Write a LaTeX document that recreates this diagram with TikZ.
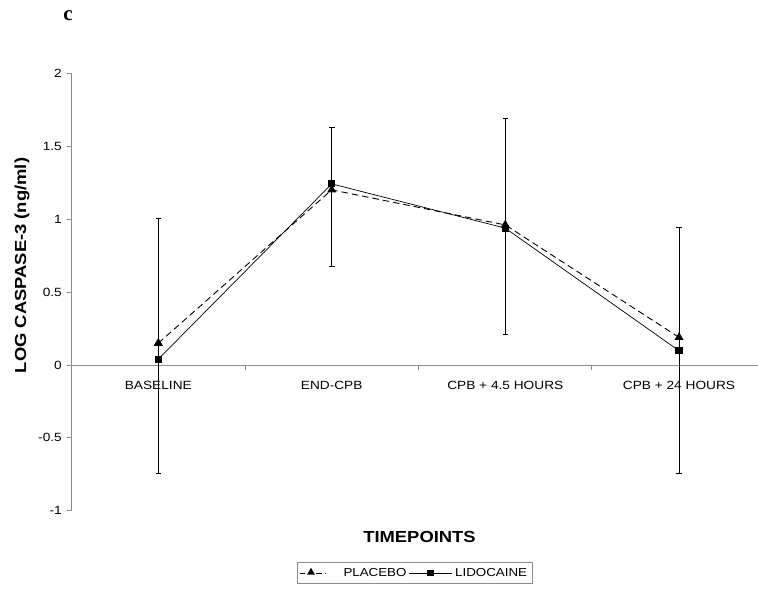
\documentclass[tikz,border=0pt]{standalone}
\usepackage{fontspec}
\setmainfont{Liberation Sans}[FakeStretch=1.15]
\newfontfamily\serifc{Liberation Serif}
\usetikzlibrary{shapes.geometric}
\definecolor{axgray}{HTML}{8C8C8C}
\newcommand\vy[1]{365-145.6*(#1)}
\begin{document}
\begin{tikzpicture}[x=1pt,y=-1pt,
  axisline/.style={draw=axgray,line width=0.9pt},
  ticklab/.style={anchor=east,inner sep=0pt,font=\fontsize{11.9}{13}\selectfont},
  catlab/.style={inner sep=0pt,font=\fontsize{11.9}{13}\selectfont},
  titlelab/.style={inner sep=0pt,font=\bfseries\fontsize{16}{18}\selectfont},
  errbar/.style={draw=black,line width=0.7pt},
  placeboline/.style={draw=black,line width=0.9pt,dash pattern=on 6.5pt off 4pt},
  lidoline/.style={draw=black,line width=0.7pt},
  tri/.style={regular polygon,regular polygon sides=3,fill=black,minimum size=10.5pt,inner sep=0pt},
  sq/.style={rectangle,fill=black,minimum size=7.2pt,inner sep=0pt},
  legbox/.style={draw=axgray,line width=0.8pt},
  leglab/.style={anchor=west,inner sep=0pt,font=\fontsize{11.6}{13}\selectfont}]
\useasboundingbox (0,0) rectangle (758,589);
% panel letter
\node[inner sep=0pt,font=\serifc\bfseries\fontsize{21}{24}\selectfont] (letter) at (68,15.5) {c};
% axes
\coordinate (ytop) at (71.5,{\vy{2}});
\coordinate (ybot) at (71.5,{\vy{-1}});
\coordinate (xleft) at (71.5,365);
\coordinate (xright) at (758,365);
\draw[axisline] (ytop) -- (ybot);
\draw[axisline] (xleft) -- (xright);
\foreach \v/\t in {2/2,1.5/1.5,1/1,0.5/0.5,0/0,-0.5/-0.5,-1/-1}{
  \draw[axisline] (66.5,{\vy{\v}}) -- (71.5,{\vy{\v}});
  \node[ticklab] at (62,{\vy{\v}}) {\t};
}
\foreach \xx in {245,418.4,591.8}{
  \draw[axisline] (\xx,365) -- (\xx,369.5);
}
% category labels
\node[catlab] (c1) at (158.3,385) {BASELINE};
\node[catlab] (c2) at (331.7,385) {END-CPB};
\node[catlab] (c3) at (505.3,385) {CPB + 4.5 HOURS};
\node[catlab] (c4) at (679,385) {CPB + 24 HOURS};
% axis titles
\node[titlelab,rotate=90] (ylab) at (22,265.5) {LOG CASPASE-3 (ng/ml)};
\node[titlelab] (xlab) at (419.5,536.5) {TIMEPOINTS};
% error bars
\foreach \n/\xx/\lo/\hi in {1/158.3/-0.747/1.005, 2/331.7/0.68/1.63, 3/505.3/0.211/1.693, 4/679/-0.747/0.944}{
  \coordinate (e\n t) at (\xx,{\vy{\hi}});
  \coordinate (e\n b) at (\xx,{\vy{\lo}});
  \draw[errbar] (e\n t) -- (e\n b);
  \draw[errbar] ([xshift=-2.8pt]e\n t) -- ([xshift=2.8pt]e\n t);
  \draw[errbar] ([xshift=-2.8pt]e\n b) -- ([xshift=2.8pt]e\n b);
}
% data points
\coordinate (p1) at (158.3,{\vy{0.15}});
\coordinate (p2) at (331.7,{\vy{1.203}});
\coordinate (p3) at (505.3,{\vy{0.962}});
\coordinate (p4) at (679,{\vy{0.19}});
\coordinate (l1) at (158.3,{\vy{0.04}});
\coordinate (l2) at (331.7,{\vy{1.244}});
\coordinate (l3) at (505.3,{\vy{0.94}});
\coordinate (l4) at (679,{\vy{0.098}});
\draw[placeboline] (p1) -- (p2) -- (p3) -- (p4);
\draw[lidoline] (l1) -- (l2) -- (l3) -- (l4);
\foreach \n in {1,2,3,4}{
  \node[tri] (pm\n) at (p\n) {};
  \node[sq] (lm\n) at (l\n) {};
}
% legend
\node[legbox,minimum width=235.5pt,minimum height=21pt,inner sep=0pt] (leg) at (414.75,573) {};
\coordinate (lp1) at (299.5,573);
\coordinate (lp2) at (327,573);
\draw[placeboline,dash pattern=on 5.5pt off 11pt on 5.5pt off 3pt on 1.5pt off 10pt] (lp1) -- (lp2);
\node[tri,minimum size=9pt] (legtri) at (311,572.3) {};
\node[leglab] (legp) at (343.3,573) {PLACEBO};
\coordinate (ll1) at (409.3,573);
\coordinate (ll2) at (451.7,573);
\draw[lidoline] (ll1) -- (ll2);
\node[sq,minimum size=6.5pt] (legsq) at (430.5,573) {};
\node[leglab] (legl) at (455,573) {LIDOCAINE};
\end{tikzpicture}
\end{document}
